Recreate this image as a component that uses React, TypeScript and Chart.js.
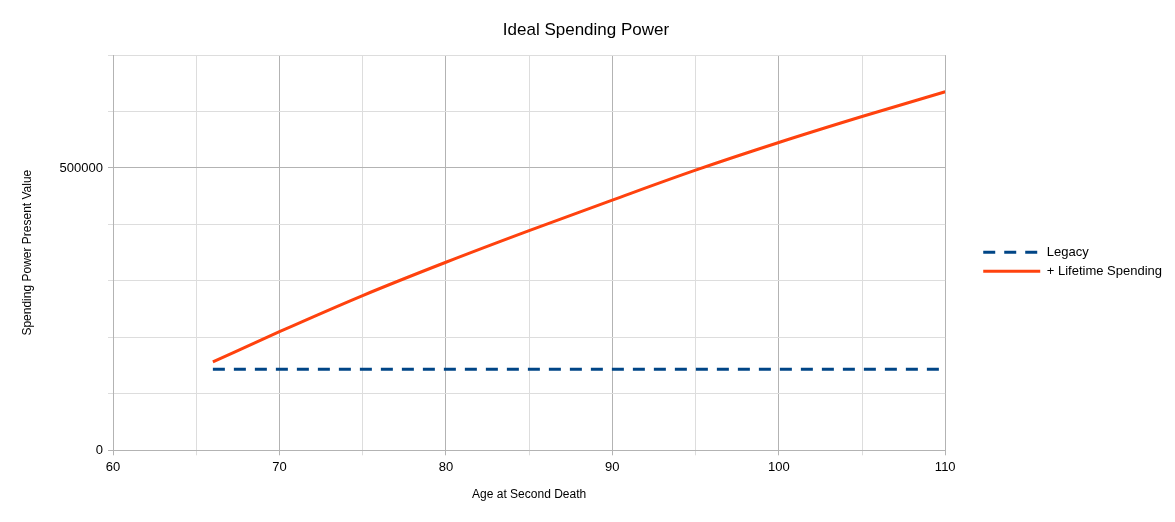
import { useEffect, useRef } from "react";
import { Chart, ChartConfiguration, registerables } from "chart.js";

Chart.register(...registerables);

// values
const ages = [66, 70, 75, 80, 85, 90, 95, 100, 105, 110];
const lifetimeSpending = [156600, 210000, 274000, 333000, 389000, 443000, 496000, 545000, 591000, 635000];
const legacy = [143600, 143600, 143600, 143600, 143600, 143600, 143600, 143600, 143600, 143600];
const yLabelled = [0, 500000];

const FONT = "'Liberation Sans', Arial, sans-serif";
const MAJOR = "#b3b3b3";
const MINOR = "#dddddd";

export default function App() {
  const chartRef = useRef<HTMLCanvasElement>(null);
  const chartInstance = useRef<Chart | null>(null);

  useEffect(() => {
    document.body.style.margin = "0";
    if (!chartRef.current) return;

    if (chartInstance.current) {
      chartInstance.current.destroy();
    }

    const config: ChartConfiguration = {
      type: "line",
      data: {
        datasets: [
          {
            label: "Legacy",
            data: ages.map((a, i) => ({ x: a, y: legacy[i] })),
            borderColor: "#004586",
            backgroundColor: "#004586",
            borderWidth: 3,
            borderDash: [12, 9],
            pointRadius: 0,
            fill: false,
          },
          {
            label: "+ Lifetime Spending",
            data: ages.map((a, i) => ({ x: a, y: lifetimeSpending[i] })),
            borderColor: "#ff420e",
            backgroundColor: "#ff420e",
            borderWidth: 3,
            pointRadius: 0,
            cubicInterpolationMode: "monotone",
            fill: false,
          },
        ],
      },
      options: {
        responsive: false,
        animation: false,
        layout: { padding: { left: 0, right: 3, bottom: 20, top: 0 } },
        plugins: {
          title: {
            display: true,
            text: "Ideal Spending Power",
            color: "#000",
            font: { family: FONT, size: 17, weight: "normal" },
            padding: { top: 20.5, bottom: 14.1 },
          },
          legend: {
            position: "right",
            fullSize: false,
            title: {
              display: true,
              text: " ",
              font: { family: FONT, size: 10 },
              padding: 3,
            },
            labels: {
              color: "#000",
              font: { family: FONT, size: 13 },
              usePointStyle: true,
              pointStyle: "line",
              pointStyleWidth: 57,
              boxWidth: 57,
              padding: 6,
              generateLabels: (chart) => {
                const items = Chart.defaults.plugins.legend.labels.generateLabels(chart);
                items.forEach((item) => {
                  const ds = chart.data.datasets[item.datasetIndex ?? 0] as any;
                  item.lineDash = ds.borderDash || [];
                  item.lineWidth = 3;
                  item.strokeStyle = ds.borderColor;
                });
                return items;
              },
            },
          },
          tooltip: { enabled: false },
        },
        scales: {
          x: {
            type: "linear",
            min: 60,
            max: 110,
            ticks: {
              stepSize: 5,
              autoSkip: false,
              maxRotation: 0,
              color: "#000",
              padding: 4,
              font: { family: FONT, size: 13 },
              callback: (v) => (Number(v) % 10 === 0 ? String(v) : ""),
            },
            grid: {
              color: (ctx) => (ctx.tick && ctx.tick.value % 10 === 0 ? MAJOR : MINOR),
              tickColor: (ctx) => (ctx.tick && ctx.tick.value % 10 === 0 ? MAJOR : MINOR),
              tickLength: 5,
            },
            border: { color: MAJOR },
            title: {
              display: true,
              text: "Age at Second Death",
              color: "#000",
              font: { family: FONT, size: 12 },
              padding: { top: 8.7, bottom: 0 },
            },
          },
          y: {
            min: 0,
            max: 700000,
            ticks: {
              stepSize: 100000,
              autoSkip: false,
              color: "#000",
              padding: 5,
              font: { family: FONT, size: 13 },
              callback: (v) => (yLabelled.includes(Number(v)) ? String(v) : ""),
            },
            grid: {
              color: (ctx) => (ctx.tick && yLabelled.includes(ctx.tick.value) ? MAJOR : MINOR),
              tickColor: (ctx) => (ctx.tick && yLabelled.includes(ctx.tick.value) ? MAJOR : MINOR),
              tickLength: 5,
            },
            border: { color: MAJOR },
            title: {
              display: true,
              text: "Spending Power Present Value",
              color: "#000",
              font: { family: FONT, size: 12 },
              padding: { top: 20, bottom: 0 },
            },
            afterFit: (scale) => {
              scale.width = 113;
            },
          },
          gap: {
            type: "linear",
            position: "right",
            display: true,
            grid: { display: false, drawTicks: false },
            border: { display: false },
            ticks: { display: false },
            afterFit: (scale) => {
              scale.width = 32;
            },
          },
        },
      },
    };

    chartInstance.current = new Chart(chartRef.current, config);

    return () => {
      if (chartInstance.current) {
        chartInstance.current.destroy();
        chartInstance.current = null;
      }
    };
  }, []);

  return (
    <div style={{ width: 1175, height: 522 }}>
      <canvas ref={chartRef} width={1175} height={522}></canvas>
    </div>
  );
}
